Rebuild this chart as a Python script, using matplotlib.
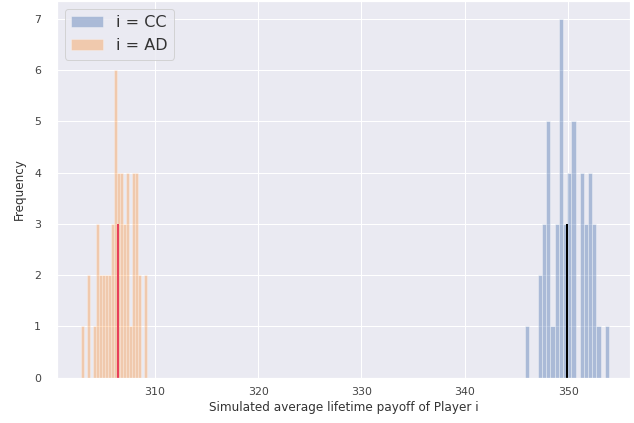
import numpy as np
import matplotlib
matplotlib.use("Agg")
import matplotlib.pyplot as plt
import seaborn as sns

# histogram counts of simulated average lifetime payoffs
cc_range = (345.85, 353.95)
cc_counts = [1, 0, 0, 2, 3, 5, 1, 3, 7, 3, 4, 5, 0, 4, 3, 4, 3, 1, 0, 1]
ad_range = (302.82, 309.28)
ad_counts = [1, 0, 2, 0, 1, 3, 2, 2, 2, 2, 3, 6, 4, 4, 3, 4, 1, 4, 4, 2, 0, 2]

cc_mean = 349.92
ad_mean = 306.49
mean_height = 3

sns.set_theme(style="darkgrid")

fig, ax = plt.subplots(figsize=(634 / 72, 423 / 72), dpi=72)
fig.subplots_adjust(left=0.09, right=0.994, top=0.998, bottom=0.107)

def draw_hist(rng, counts, color, alpha, label):
    edges = np.linspace(rng[0], rng[1], len(counts) + 1)
    ax.hist(edges[:-1], bins=edges, weights=counts, color=color, alpha=alpha,
            edgecolor="white", linewidth=0.8, label=label)

draw_hist(cc_range, cc_counts, "#4c72b0", 0.4, "i = CC")
draw_hist(ad_range, ad_counts, "#ff7f0e", 0.3, "i = AD")

ax.vlines(ad_mean, 0, mean_height, color="#e8405a", linewidth=2)
ax.vlines(cc_mean, 0, mean_height, color="black", linewidth=2)

ax.set_xlim(300.55, 356.0)
ax.set_ylim(0, 7.35)
ax.set_xticks([310, 320, 330, 340, 350])
ax.tick_params(labelsize=11, colors="#444444")
ax.tick_params(axis="y", pad=10)
ax.set_xlabel("Simulated average lifetime payoff of Player i", fontsize=12,
              color="#333333")
ax.set_ylabel("Frequency", fontsize=12, color="#333333", labelpad=8)
leg = ax.legend(loc="upper left", fontsize=16)
for t in leg.get_texts():
    t.set_color("#333333")

fig.savefig("out.png", dpi=72)
